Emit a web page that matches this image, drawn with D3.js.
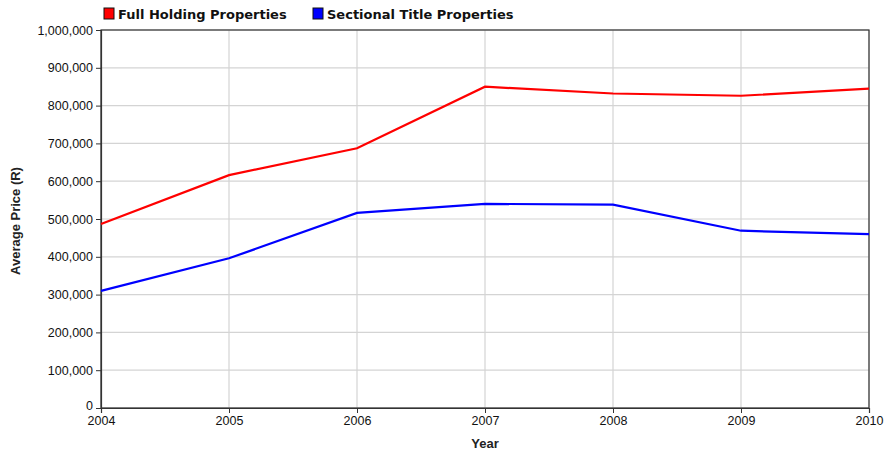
<!doctype html>
<html>
<head>
    <title>Average Price</title>
    <script src="https://d3js.org/d3.v7.min.js"></script>
    <style>
        body { margin: 0; background: #fff; }
    </style>
</head>
<body>
    <div id="chart"></div>
    <script>

        // Data
        var years = [2004, 2005, 2006, 2007, 2008, 2009, 2010];
        var fullHolding = [487000, 616000, 687000, 850000, 832000, 826000, 845000];
        var sectionalTitle = [310000, 396000, 516000, 540000, 538000, 469000, 460000];
        var seriesNames = ["Full Holding Properties", "Sectional Title Properties"];
        var seriesColors = ["#ff0000", "#0000ff"];
        var yTicks = [0, 100000, 200000, 300000, 400000, 500000, 600000, 700000, 800000, 900000, 1000000];

        const width = 886;
        const height = 455;
        var margin = {left: 101, right: 17, top: 30, bottom: 47};

        var svg = d3.select("#chart")
            .append("svg")
            .attr("width", width)
            .attr("height", height)
            .style("font-family", "Liberation Sans, Arial, sans-serif");

        var x = d3.scaleLinear().domain([2004, 2010]).range([margin.left, width - margin.right]);
        var y = d3.scaleLinear().domain([0, 1000000]).range([height - margin.bottom, margin.top]);

        // grid
        svg.append("g").selectAll("line.gy")
            .data(yTicks)
            .enter()
            .append("line")
                .attr("x1", margin.left).attr("x2", width - margin.right)
                .attr("y1", function(d){return y(d);}).attr("y2", function(d){return y(d);})
                .attr("stroke", "#d4d4d4").attr("stroke-width", 1.2);

        svg.append("g").selectAll("line.gx")
            .data(years)
            .enter()
            .append("line")
                .attr("y1", margin.top).attr("y2", height - margin.bottom)
                .attr("x1", function(d){return x(d);}).attr("x2", function(d){return x(d);})
                .attr("stroke", "#d4d4d4").attr("stroke-width", 1.2);

        // frame
        svg.append("rect")
            .attr("x", margin.left).attr("y", margin.top)
            .attr("width", width - margin.left - margin.right)
            .attr("height", height - margin.top - margin.bottom)
            .attr("fill", "none").attr("stroke", "#333").attr("stroke-width", 1.2);

        // axes
        var yAxis = svg.append("g")
            .attr("transform", "translate(" + margin.left + ",0)")
            .call(d3.axisLeft(y).tickValues(yTicks).tickSize(5).tickPadding(3).tickFormat(d3.format(",")));

        var xAxis = svg.append("g")
            .attr("transform", "translate(0," + (height - margin.bottom) + ")")
            .call(d3.axisBottom(x).tickValues(years).tickSize(5).tickPadding(3).tickFormat(d3.format("d")));

        [yAxis, xAxis].forEach(function(a){
            a.attr("font-family", null).attr("font-size", null);
            a.select(".domain").attr("stroke", "#333").attr("stroke-width", 1.2);
            a.selectAll(".tick line").attr("stroke", "#333");
            a.selectAll("text").style("font-size", "12.5px").attr("fill", "#111");
        });
        // lift the "0" label a little so it clears the 2004 label
        yAxis.selectAll(".tick text").filter(function(d){return d === 0;}).attr("dy", "0.1em");

        // lines
        var line = d3.line()
            .x(function(d, i){return x(years[i]);})
            .y(function(d){return y(d);});

        [fullHolding, sectionalTitle].forEach(function(s, i){
            svg.append("path")
                .datum(s)
                .attr("d", line)
                .attr("fill", "none")
                .attr("stroke", seriesColors[i])
                .attr("stroke-width", 2.2);
        });

        // axis titles
        svg.append("text")
            .attr("x", x(2007)).attr("y", 448)
            .attr("text-anchor", "middle")
            .style("font-size", "13px").style("font-weight", "bold").attr("fill", "#222")
            .text("Year");

        svg.append("text")
            .attr("transform", "translate(20,221) rotate(-90)")
            .attr("text-anchor", "middle")
            .style("font-size", "13px").style("font-weight", "bold").attr("fill", "#222")
            .text("Average Price (R)");

        // legend
        var legendX = [104, 313];
        seriesNames.forEach(function(n, i){
            svg.append("rect")
                .attr("x", legendX[i]).attr("y", 8)
                .attr("width", 10).attr("height", 11)
                .attr("fill", seriesColors[i]).attr("stroke", "#111").attr("stroke-width", 1);
            svg.append("text")
                .attr("x", legendX[i] + 14).attr("y", 19)
                .style("font-family", "DejaVu Sans, sans-serif")
                .style("font-size", "13px").style("font-weight", "bold").attr("fill", "#111")
                .text(n);
        });

    </script>
</body>
</html>
